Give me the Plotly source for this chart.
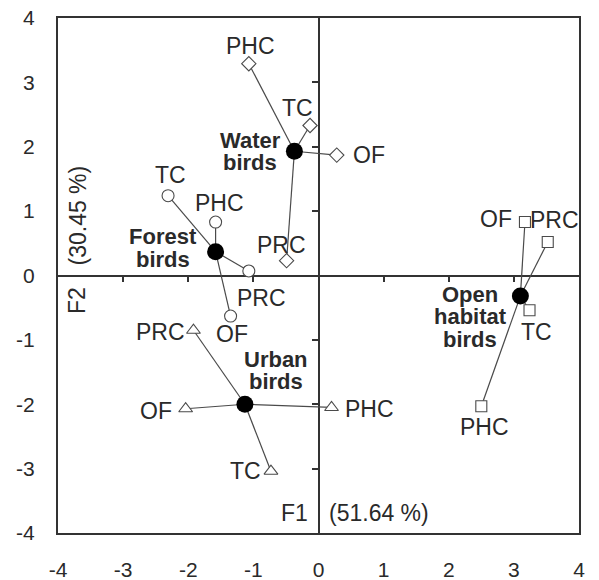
import plotly.graph_objects as go

# ---------------- data ----------------
habitats = ["PHC", "TC", "OF", "PRC"]
groups = ["Water birds", "Forest birds", "Urban birds", "Open habitat birds"]

water_x = [-1.07, -0.13, 0.28, -0.49]
water_y = [3.29, 2.33, 1.87, 0.23]
forest_x = [-1.58, -2.31, -1.35, -1.07]
forest_y = [0.83, 1.24, -0.63, 0.07]
urban_x = [0.20, -0.73, -2.04, -1.92]
urban_y = [-2.05, -3.04, -2.07, -0.85]
open_x = [2.50, 3.24, 3.17, 3.52]
open_y = [-2.03, -0.54, 0.83, 0.52]

centroid_x = [-0.37, -1.58, -1.13, 3.10]
centroid_y = [1.93, 0.37, -2.00, -0.32]

tick_vals = [-4, -3, -2, -1, 0, 1, 2, 3, 4]
tick_text = ["-4", "-3", "-2", "-1", "0", "1", "2", "3", "4"]
inner_ticks = [-3, -2, -1, 1, 2, 3]
f1_name, f1_pct = "F1", "(51.64 %)"
f2_name, f2_pct = "F2", "(30.45 %)"

# ---------------- styles ----------------
FONT = "Arial, Liberation Sans, Helvetica, sans-serif"
TXT = "#2a2a2a"
LINE = "#4a4a4a"
series_x = [water_x, forest_x, urban_x, open_x]
series_y = [water_y, forest_y, urban_y, open_y]
symbols = ["diamond", "circle", "triangle-up", "square"]
msizes = [11, 12, 12, 11]

# label offsets (xshift, yshift, xanchor) per group, per habitat
lab_off = [
    [(2, 18, "center"), (-13, 18, "center"), (14, 0, "left"), (-5, 16, "center")],
    [(4, 19, "center"), (2, 21, "center"), (1, -18, "center"), (13, -27, "center")],
    [(11, -2, "left"), (-8, 0, "right"), (-12, -2, "right"), (-6, -2, "right")],
    [(3, -21, "center"), (7, -22, "center"), (-11, 3, "right"), (7, 22, "center")],
]
# group label block: centre x shift, y shift of first line; line spacing
grp_off = [(-44, 11), (-53, 15), (31, 45), (-50, 2)]
LSP = 22.5

fig = go.Figure()

# connecting lines centroid -> habitat points
for g in range(4):
    lx, ly = [], []
    for xv, yv in zip(series_x[g], series_y[g]):
        lx += [centroid_x[g], xv, None]
        ly += [centroid_y[g], yv, None]
    fig.add_trace(go.Scatter(x=lx, y=ly, mode="lines",
                             line=dict(color=LINE, width=1.2),
                             hoverinfo="skip", showlegend=False))

# habitat markers
for g in range(4):
    fig.add_trace(go.Scatter(x=series_x[g], y=series_y[g], mode="markers",
                             marker=dict(symbol=symbols[g], size=msizes[g], color="white",
                                         line=dict(color=LINE, width=1.1)),
                             text=habitats, name=groups[g], showlegend=False))

# centroids
fig.add_trace(go.Scatter(x=centroid_x, y=centroid_y, mode="markers",
                         marker=dict(size=17, color="black"),
                         text=groups, showlegend=False))

# dummy trace for the centre axes
fig.add_trace(go.Scatter(x=[0], y=[0], xaxis="x2", yaxis="y2", mode="markers",
                         marker=dict(opacity=0), hoverinfo="skip", showlegend=False))

ann = []
for g in range(4):
    for i, h in enumerate(habitats):
        xs, ys, xa = lab_off[g][i]
        ann.append(dict(x=series_x[g][i], y=series_y[g][i], text=h, showarrow=False,
                        xshift=xs, yshift=ys, xanchor=xa, yanchor="middle",
                        font=dict(family=FONT, size=23, color=TXT)))
    xs, ys = grp_off[g]
    for k, word in enumerate(groups[g].split(" ")):
        ann.append(dict(x=centroid_x[g], y=centroid_y[g], text="<b>%s</b>" % word,
                        showarrow=False, xshift=xs, yshift=ys - k * LSP,
                        xanchor="center", yanchor="middle", borderpad=0,
                        font=dict(family=FONT, size=22, color=TXT)))

# axis titles inside the frame
ann += [
    dict(x=0, y=-4, text=f1_name, showarrow=False, xanchor="right", yanchor="middle",
         xshift=-9, yshift=20, font=dict(family=FONT, size=23, color=TXT)),
    dict(x=0, y=-4, text=f1_pct, showarrow=False, xanchor="left", yanchor="middle",
         xshift=8, yshift=20, font=dict(family=FONT, size=23, color=TXT)),
    dict(x=-4, y=0, text=f2_pct, showarrow=False, textangle=-90, xanchor="center",
         yanchor="bottom", xshift=19, yshift=8, font=dict(family=FONT, size=23, color=TXT)),
    dict(x=-4, y=0, text=f2_name, showarrow=False, textangle=-90, xanchor="center",
         yanchor="top", xshift=19, yshift=-10, font=dict(family=FONT, size=23, color=TXT)),
]

fig.update_layout(
    width=599, height=580,
    margin=dict(l=58, r=20, t=18, b=47),
    paper_bgcolor="white", plot_bgcolor="white",
    font=dict(family=FONT, color=TXT),
    annotations=ann,
    xaxis=dict(range=[-4, 4], tickvals=tick_vals, ticktext=tick_text, showgrid=False,
               zeroline=False, showline=True, mirror=True, linecolor="#333", linewidth=2,
               ticks="", ticklabelstandoff=17, automargin=False,
               tickfont=dict(family=FONT, size=21, color=TXT)),
    yaxis=dict(range=[-4, 4], tickvals=tick_vals, ticktext=tick_text, showgrid=False,
               zeroline=False, showline=True, mirror=True, linecolor="#333", linewidth=2,
               ticks="", ticklabelstandoff=17, automargin=False,
               tickfont=dict(family=FONT, size=21, color=TXT)),
    xaxis2=dict(range=[-4, 4], overlaying="x", anchor="free", position=0.5, side="bottom",
                tickvals=inner_ticks, ticks="outside", ticklen=6, tickwidth=1.5,
                tickcolor="#333", showticklabels=False, showgrid=False, zeroline=False,
                showline=True, linecolor="#333", linewidth=1.5, layer="below traces",
                automargin=False),
    yaxis2=dict(range=[-4, 4], overlaying="y", anchor="free", position=0.5, side="left",
                tickvals=inner_ticks, ticks="outside", ticklen=6, tickwidth=1.5,
                tickcolor="#333", showticklabels=False, showgrid=False, zeroline=False,
                showline=True, linecolor="#333", linewidth=1.5, layer="below traces",
                automargin=False),
)

fig.write_html("out.html", config={"displayModeBar": False},
               post_script="document.body.style.margin='0';document.body.style.overflow='hidden';")
